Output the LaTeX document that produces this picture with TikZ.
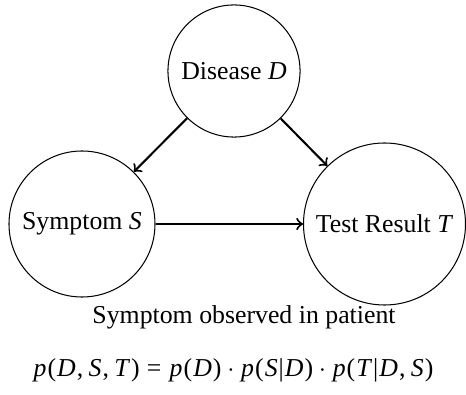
\documentclass[tikz,border=0pt]{standalone}
\usepackage{fontspec}
\setmainfont{Liberation Serif}
\newcommand\mv[1]{\hspace{0.04em}\textit{#1}\hspace{0.04em}}
\newcommand\mdot{\hspace{0.222em}$\cdot$\hspace{0.222em}}
\newcommand\meq{\hspace{0.2777em}=\hspace{0.2777em}}
\begin{document}
\begin{tikzpicture}[x=0.3876pt,y=-0.3876pt,
  var/.style={draw,circle,inner sep=0pt,line width=0.4pt},
  edge/.style={->,thick}]
\useasboundingbox (0,0) rectangle (466,395);
\node[var,minimum size=51.2pt] (D) at (234,71) {Disease \textit{D}};
\node[var,minimum size=56.6pt] (S) at (82,224) {Symptom \textit{S}};
\node[var,minimum size=62.8pt] (T) at (384.5,224) {Test Result \textit{T}};
\node (cap) at (244,317) {Symptom observed in patient};
\node (eq) at (233,370) {\mv{p}(\mv{D},\,\mv{S},\,\mv{T})\meq\mv{p}(\mv{D})\mdot\mv{p}(\mv{S}|\mv{D})\mdot\mv{p}(\mv{T}|\mv{D},\,\mv{S})};
\draw[edge] (D) -- (S);
\draw[edge] (D) -- (T);
\draw[edge] (S) -- (T);
\end{tikzpicture}
\end{document}
